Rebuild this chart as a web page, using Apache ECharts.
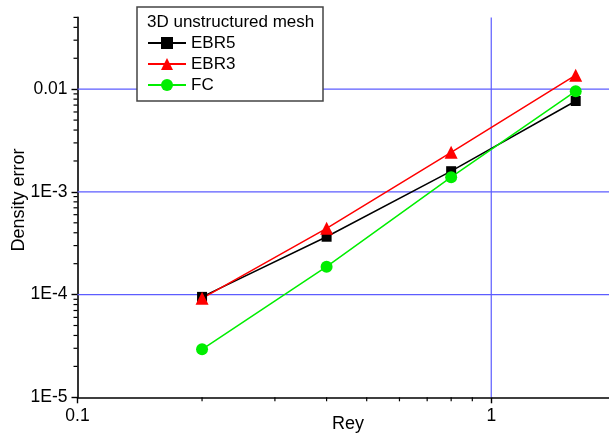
<!DOCTYPE html>
<html>
<head>
<meta charset="utf-8">
<script src="https://cdn.jsdelivr.net/npm/echarts@6/dist/echarts.min.js"></script>
<style>
html, body { margin: 0; padding: 0; background: #fff; }
#chart { width: 609px; height: 435px; }
</style>
</head>
<body>
<div id="chart"></div>
<script>
// Rey values (x)
var rey = [0.2, 0.4, 0.8, 1.6];
// density error per scheme
var ebr5 = [9.5e-5, 3.66e-4, 1.59e-3, 7.67e-3];
var ebr3 = [9.2e-5, 4.42e-4, 2.43e-3, 1.37e-2];
var fc = [2.93e-5, 1.87e-4, 1.39e-3, 9.55e-3];

// major ticks / labels
var xMajor = [0.1, 1];
var xLabels = ['0.1', '1'];
var yMajor = [1e-5, 1e-4, 1e-3, 1e-2];
var yLabels = ['1E-5', '1E-4', '1E-3', '0.01'];
// grid lines
var xGrid = [1];
var yGrid = [1e-4, 1e-3, 1e-2];

// minor ticks (2..9 inside each decade)
var xMinor = [0.2, 0.3, 0.4, 0.5, 0.6, 0.7, 0.8, 0.9, 2];
var yMinor = [];
var decades = [1e-5, 1e-4, 1e-3, 1e-2];
var mults = [2, 3, 4, 5, 6, 7, 8, 9];
decades.forEach(function(d){
	mults.forEach(function(m){
		var v = d * m;
		if(v <= 0.05 + 1e-9){
			yMinor.push(v);
		}
	});
});

var xMin = 0.1, xMax = 2, yMin = 1e-5, yMax = 0.05;

// kind: 0 x minor tick, 1 y minor tick, 2 horizontal grid, 3 vertical grid
var guideData = [];
xMinor.forEach(function(v){ guideData.push([v, yMin, 0]); });
yMinor.forEach(function(v){ guideData.push([xMin, v, 1]); });
yGrid.forEach(function(v){ guideData.push([xMin, v, 2]); });
xGrid.forEach(function(v){ guideData.push([v, yMin, 3]); });

var pick = function(list, labels, v){
	for(var i = 0; i < list.length; i++){
		if(Math.abs(Math.log10(v) - Math.log10(list[i])) < 1e-6){
			return labels[i];
		}
	}
	return '';
};

var font = 'Liberation Sans, Arial, sans-serif';
var gridColor = '#5c5cff';

var chart = echarts.init(document.getElementById('chart'));
chart.setOption({
	animation: false,
	backgroundColor: '#fff',
	grid: {
		left: 77.5,
		top: 17.4,
		width: 538.3,
		height: 379.9,
		containLabel: false,
		outerBoundsMode: 'none'
	},
	xAxis: {
		type: 'log',
		logBase: 10,
		min: xMin,
		max: xMax,
		interval: 1,
		axisLine: { show: true, onZero: false, lineStyle: { color: '#000', width: 1.6 } },
		axisTick: { show: true, length: 6, customValues: xMajor, lineStyle: { color: '#000', width: 1.4 } },
		axisLabel: {
			fontFamily: font, fontSize: 17.5, color: '#000', margin: 10,
			customValues: xMajor,
			formatter: function(v){ return pick(xMajor, xLabels, v); }
		},
		minorTick: { show: false },
		splitLine: { show: false }
	},
	yAxis: {
		type: 'log',
		logBase: 10,
		min: yMin,
		max: yMax,
		interval: 1,
		axisLine: { show: true, onZero: false, lineStyle: { color: '#000', width: 1.6 } },
		axisTick: { show: true, length: 6, customValues: yMajor, lineStyle: { color: '#000', width: 1.4 } },
		axisLabel: {
			fontFamily: font, fontSize: 17.5, color: '#000', margin: 10,
			customValues: yMajor,
			formatter: function(v){ return pick(yMajor, yLabels, v); }
		},
		minorTick: { show: false },
		splitLine: { show: false }
	},
	legend: {
		data: ['EBR5', 'EBR3', 'FC'],
		orient: 'vertical',
		left: 147,
		top: 34.5,
		itemWidth: 38,
		itemHeight: 15,
		itemGap: 4,
		padding: 0,
		z: 20,
		textStyle: { fontFamily: font, fontSize: 17, lineHeight: 17, color: '#000' }
	},
	graphic: [
		{
			type: 'rect',
			z: 10,
			shape: { x: 137, y: 7, width: 186, height: 94 },
			style: { fill: '#fff', stroke: '#444', lineWidth: 1.5 }
		},
		{
			type: 'text',
			z: 11,
			left: 147,
			top: 13.5,
			style: { text: '3D unstructured mesh', font: '17px ' + font, fill: '#000' }
		},
		{
			// x axis title
			type: 'text',
			z: 11,
			x: 348,
			y: 424,
			style: { text: 'Rey', font: '18px ' + font, fill: '#000', align: 'center', verticalAlign: 'middle' }
		},
		{
			// y axis title
			type: 'text',
			z: 11,
			x: 19.5,
			y: 200,
			rotation: Math.PI / 2,
			style: { text: 'Density error', font: '18px ' + font, fill: '#000', align: 'center', verticalAlign: 'middle' }
		}
	],
	series: [
		{
			name: 'guides',
			type: 'custom',
			silent: true,
			clip: false,
			z: 1,
			data: guideData,
			encode: { x: 0, y: 1 },
			renderItem: function(params, api){
				var kind = api.value(2);
				var p = api.coord([api.value(0), api.value(1)]);
				var shape, color = '#000', w = 1.2;
				if(kind === 0){
					shape = { x1: p[0], y1: p[1], x2: p[0], y2: p[1] + 4 };
				}else if(kind === 1){
					shape = { x1: p[0] - 4, y1: p[1], x2: p[0], y2: p[1] };
				}else if(kind === 2){
					var q = api.coord([xMax, api.value(1)]);
					shape = { x1: p[0], y1: p[1], x2: q[0], y2: q[1] };
					color = gridColor;
				}else{
					var r = api.coord([api.value(0), yMax]);
					shape = { x1: p[0], y1: p[1], x2: r[0], y2: r[1] };
					color = gridColor;
				}
				return { type: 'line', shape: shape, style: { stroke: color, lineWidth: w } };
			}
		},
		{
			name: 'EBR5',
			type: 'line',
			data: rey.map(function(x, i){ return [x, ebr5[i]]; }),
			symbol: 'rect',
			symbolSize: 10,
			itemStyle: { color: '#000' },
			lineStyle: { color: '#000', width: 1.5 }
		},
		{
			name: 'EBR3',
			type: 'line',
			data: rey.map(function(x, i){ return [x, ebr3[i]]; }),
			symbol: 'triangle',
			symbolSize: 13,
			itemStyle: { color: '#ff0000' },
			lineStyle: { color: '#ff0000', width: 1.5 }
		},
		{
			name: 'FC',
			type: 'line',
			data: rey.map(function(x, i){ return [x, fc[i]]; }),
			symbol: 'circle',
			symbolSize: 12,
			itemStyle: { color: '#00ee00' },
			lineStyle: { color: '#00ee00', width: 1.5 }
		}
	]
});
</script>
</body>
</html>
